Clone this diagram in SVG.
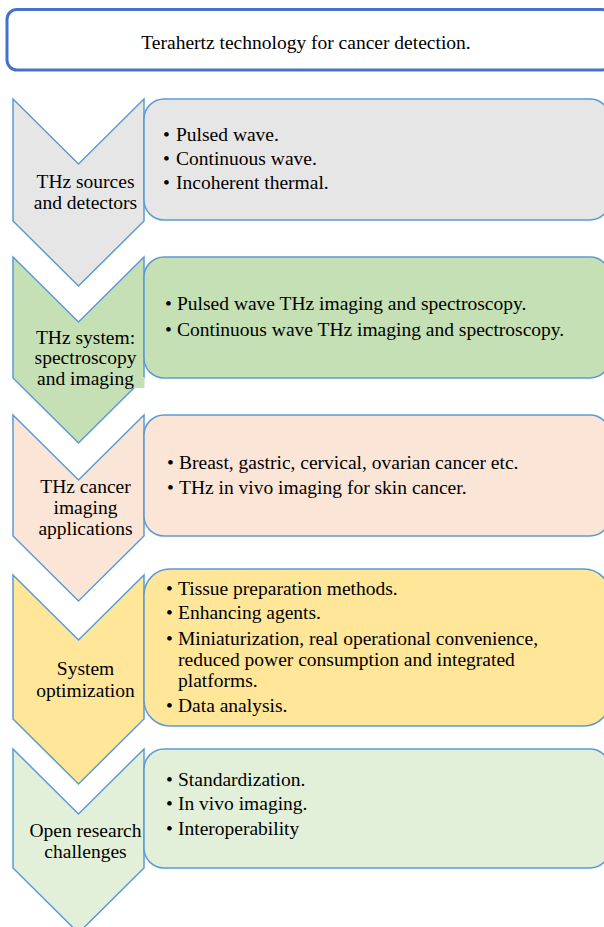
<svg xmlns="http://www.w3.org/2000/svg" width="604" height="927" viewBox="0 0 604 927">
<style>
text{font-family:"Liberation Serif","Times New Roman",serif;font-size:19.5px;fill:#000}
.c{text-anchor:middle}
.sh{stroke:#5B9BD5;stroke-width:1.5;stroke-linejoin:miter}
.g1{fill:#E7E6E6}.g2{fill:#C5E0B4}.g3{fill:#FBE5D6}.g4{fill:#FFE699}.g5{fill:#E2F0D9}
</style>
<rect width="604" height="927" fill="#fff"/>
<g id="title">
<rect x="7" y="9.5" width="605" height="60.5" rx="10" fill="#fff" stroke="#4472C4" stroke-width="3"/>
<text class="c" x="306" y="49">Terahertz technology for cancer detection.</text>
</g>
<g id="connectors"></g>
<g id="stage1">
<polygon class="sh g1" points="13,99 78.5,164 144,99 144,221 78.5,286 13,221"/>
<rect class="sh g1" x="144" y="99" width="466" height="121" rx="20"/>
<text class="c" x="85.5" y="188">THz sources</text>
<text class="c" x="85.5" y="209">and detectors</text>
<text><tspan x="163" y="141">•</tspan><tspan x="176">Pulsed wave.</tspan></text>
<text><tspan x="163" y="165">•</tspan><tspan x="176">Continuous wave.</tspan></text>
<text><tspan x="163" y="189">•</tspan><tspan x="176">Incoherent thermal.</tspan></text>
</g>
<g id="stage2">
<polygon class="sh g2" points="13,257 78.5,322 144,257 144,378 78.5,443 13,378"/>
<rect class="sh g2" x="144" y="257" width="466" height="121" rx="20"/>
<rect x="110" y="377" width="34.5" height="11" fill="#C5E0B4"/>
<text class="c" x="85.5" y="344">THz system:</text>
<text class="c" x="85.5" y="364">spectroscopy</text>
<text class="c" x="85.5" y="385">and imaging</text>
<text><tspan x="165" y="310">•</tspan><tspan x="177">Pulsed wave THz imaging and spectroscopy.</tspan></text>
<text><tspan x="165" y="336">•</tspan><tspan x="177">Continuous wave THz imaging and spectroscopy.</tspan></text>
</g>
<g id="stage3">
<polygon class="sh g3" points="13,415 78.5,480 144,415 144,536 78.5,601 13,536"/>
<rect class="sh g3" x="144" y="415" width="466" height="121" rx="20"/>
<text class="c" x="85.5" y="493">THz cancer</text>
<text class="c" x="85.5" y="514">imaging</text>
<text class="c" x="85.5" y="535">applications</text>
<text><tspan x="167" y="469">•</tspan><tspan x="179">Breast, gastric, cervical, ovarian cancer etc.</tspan></text>
<text><tspan x="167" y="494">•</tspan><tspan x="179">THz in vivo imaging for skin cancer.</tspan></text>
</g>
<g id="stage4">
<polygon class="sh g4" points="13,575 78.5,640 144,575 144,719 78.5,784 13,719"/>
<rect class="sh g4" x="144" y="569" width="466" height="157" rx="26"/>
<text class="c" x="85.5" y="675">System</text>
<text class="c" x="85.5" y="697">optimization</text>
<text><tspan x="166" y="595">•</tspan><tspan x="178">Tissue preparation methods.</tspan></text>
<text><tspan x="166" y="619">•</tspan><tspan x="178">Enhancing agents.</tspan></text>
<text><tspan x="166" y="645">•</tspan><tspan x="178">Miniaturization, real operational convenience,</tspan></text>
<text x="178" y="666">reduced power consumption and integrated</text>
<text x="178" y="687">platforms.</text>
<text><tspan x="166" y="712">•</tspan><tspan x="178">Data analysis.</tspan></text>
</g>
<g id="stage5">
<polygon class="sh g5" points="13,749 78.5,814 144,749 144,868 78.5,933 13,868"/>
<rect class="sh g5" x="144" y="749" width="466" height="119" rx="20"/>
<text class="c" x="85.5" y="837">Open research</text>
<text class="c" x="85.5" y="858">challenges</text>
<text><tspan x="166" y="786">•</tspan><tspan x="178">Standardization.</tspan></text>
<text><tspan x="166" y="810">•</tspan><tspan x="178">In vivo imaging.</tspan></text>
<text><tspan x="166" y="835">•</tspan><tspan x="178">Interoperability</tspan></text>
</g>
</svg>
